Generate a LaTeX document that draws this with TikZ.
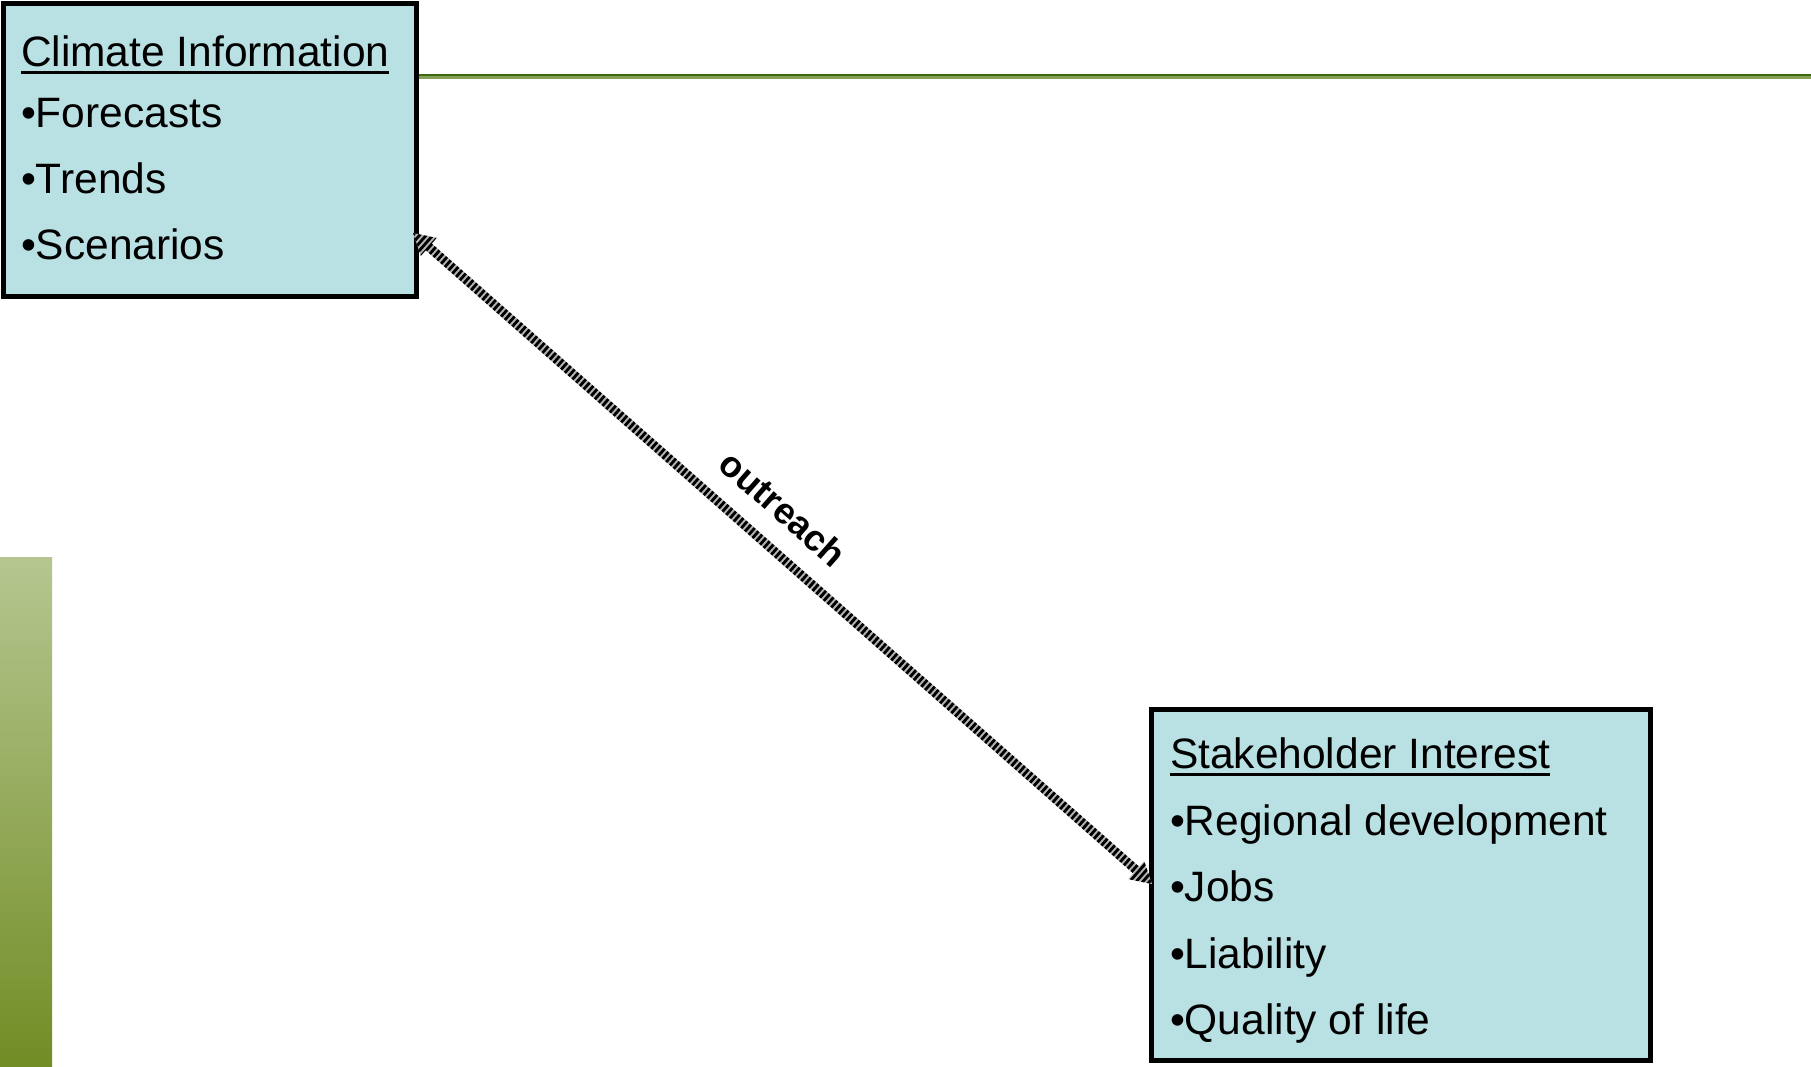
\documentclass[tikz,border=0pt]{standalone}
\usepackage{fontspec}
\setmainfont{Liberation Sans}
\usetikzlibrary{calc}
\definecolor{boxfill}{HTML}{B9E0E3}
\definecolor{lineDark}{HTML}{3E690C}
\definecolor{lineLight}{HTML}{86A05C}
\definecolor{barTop}{HTML}{B6C690}
\definecolor{barBot}{HTML}{728D25}
\definecolor{stripegray}{HTML}{B4B4B4}
\begin{document}
\begin{tikzpicture}[x=1pt,y=-1pt,
  box/.style={draw=black, line width=5pt, fill=boxfill, inner sep=0pt, outer sep=0pt, anchor=north west},
  txt/.style={inner sep=0pt, outer sep=0pt, anchor=base west, font=\fontsize{42.5}{50}\selectfont},
  lbl/.style={inner sep=0pt, outer sep=0pt, font=\fontsize{36.5}{40}\selectfont\bfseries},
  uline/.style={line width=3pt}]
\useasboundingbox (0,0) rectangle (1811,1066);
\fill[white] (0,0) rectangle (1811,1066);
% left gradient bar
\shade[top color=barTop, bottom color=barBot] (0,557) rectangle (52,1066);
% top rule
\draw[lineLight, line width=3pt] (400,77.5) -- (1811,77.5);
\draw[lineDark, line width=2pt] (400,75) -- (1811,75);
% boxes
\node[box, minimum width=413pt, minimum height=293pt] (ci) at (3.5,3.5) {};
\node[box, minimum width=499pt, minimum height=351pt] (si) at (1151.5,709.5) {};
% box 1 text
\node[txt] (ci0) at (21,66) {Climate Information};
\node[txt] (ci1) at (21,127) {•Forecasts};
\node[txt] (ci2) at (21,193) {•Trends};
\node[txt] (ci3) at (21,259) {•Scenarios};
\draw[uline] ([yshift=-6pt]ci0.base west) -- ([yshift=-6pt]ci0.base east);
% box 2 text
\node[txt] (si0) at (1170,768) {Stakeholder Interest};
\node[txt] (si1) at (1170,835) {•Regional development};
\node[txt] (si2) at (1170,901) {•Jobs};
\node[txt] (si3) at (1170,968) {•Liability};
\node[txt] (si4) at (1170,1034) {•Quality of life};
\draw[uline] ([yshift=-6.5pt]si0.base west) -- ([yshift=-6.5pt]si0.base east);
% connector end points
\coordinate (A) at ($(ci.north east)+(-3.5,229.5)$);
\coordinate (B) at ($(si.north west)+(0.5,174.5)$);
\coordinate (H1) at ($(A)!21pt!(B)$);
\coordinate (H2) at ($(B)!21pt!(A)$);
% striped double arrow
\begin{scope}
\clip (A) -- ($(H1)!12pt!90:(A)$) -- ($(H1)!4.5pt!90:(A)$) -- ($(H2)!4.5pt!-90:(B)$) -- ($(H2)!12pt!-90:(B)$) -- (B) -- ($(H2)!12pt!90:(B)$) -- ($(H2)!4.5pt!90:(B)$) -- ($(H1)!4.5pt!-90:(A)$) -- ($(H1)!12pt!-90:(A)$) -- cycle;
\draw[stripegray, line width=30pt] (A) -- (B);
\draw[black, line width=30pt, dash pattern=on 2.8pt off 2.2pt] (A) -- (B);
\end{scope}
% label
\path let \p1=($(B)-(A)$), \n1={atan2(\y1,\x1)} in node[lbl, rotate=\n1] (lab) at ($(A)!0.467!(B)!38pt!90:(B)$) {outreach};
\end{tikzpicture}
\end{document}
